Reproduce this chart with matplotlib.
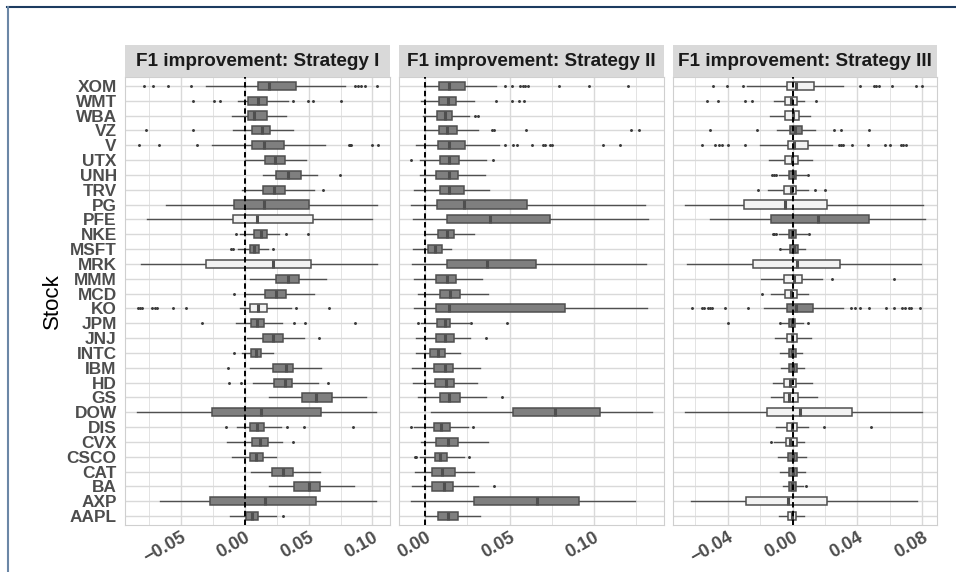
import matplotlib
matplotlib.use("Agg")
import matplotlib.pyplot as plt
from matplotlib.lines import Line2D
from matplotlib.ticker import FixedLocator

plt.rcParams['font.family'] = ['Liberation Sans', 'DejaVu Sans']

stocks = ["XOM", "WMT", "WBA", "VZ", "V", "UTX", "UNH", "TRV", "PG", "PFE", "NKE", "MSFT",
          "MRK", "MMM", "MCD", "KO", "JPM", "JNJ", "INTC", "IBM", "HD", "GS", "DOW", "DIS",
          "CVX", "CSCO", "CAT", "BA", "AXP", "AAPL"]

titles = ["F1 improvement: Strategy I", "F1 improvement: Strategy II", "F1 improvement: Strategy III"]

# ---------------- Strategy I ----------------
s1_lo = [-0.0304, -0.0050, -0.0102, -0.0089, -0.0254, 0.0003, 0.0139, -0.0018, -0.0616, -0.0763,
         -0.0039, -0.0052, -0.0810, 0.0042, 0.0003, -0.0034, -0.0071, 0.0021, -0.0024, 0.0037,
         0.0066, 0.0186, -0.0844, -0.0063, -0.0136, -0.0097, 0.0047, 0.0191, -0.0668, -0.0118]
s1_q1 = [0.0102, 0.0029, 0.0029, 0.0060, 0.0055, 0.0157, 0.0244, 0.0144, -0.0086, -0.0089,
         0.0076, 0.0039, -0.0301, 0.0246, 0.0157, 0.0037, 0.0045, 0.0144, 0.0052, 0.0220,
         0.0225, 0.0448, -0.0259, 0.0039, 0.0055, 0.0037, 0.0212, 0.0383, -0.0275, 0.0010]
s1_med = [0.0186, 0.0102, 0.0076, 0.0134, 0.0152, 0.0236, 0.0338, 0.0231, 0.0147, 0.0094,
          0.0128, 0.0073, 0.0218, 0.0341, 0.0244, 0.0107, 0.0092, 0.0223, 0.0086, 0.0322,
          0.0314, 0.0558, 0.0126, 0.0094, 0.0118, 0.0086, 0.0299, 0.0500, 0.0155, 0.0055]
s1_q3 = [0.0398, 0.0173, 0.0170, 0.0197, 0.0304, 0.0317, 0.0440, 0.0317, 0.0501, 0.0532,
         0.0176, 0.0110, 0.0519, 0.0425, 0.0322, 0.0170, 0.0149, 0.0296, 0.0128, 0.0377,
         0.0370, 0.0684, 0.0597, 0.0147, 0.0178, 0.0139, 0.0377, 0.0590, 0.0556, 0.0102]
s1_hi = [0.0781, 0.0338, 0.0322, 0.0375, 0.0626, 0.0480, 0.0566, 0.0542, 0.1035, 0.0998,
         0.0270, 0.0178, 0.1038, 0.0637, 0.0540, 0.0364, 0.0288, 0.0461, 0.0218, 0.0597,
         0.0571, 0.0946, 0.1030, 0.0283, 0.0291, 0.0244, 0.0590, 0.0857, 0.1030, 0.0244]
s1_out = [[-0.0791, -0.0718, -0.0603, -0.0425, 0.0860, 0.0886, 0.0912, 0.0938, 0.1038],
          [-0.0406, -0.0241, -0.0194, 0.0380, 0.0493, 0.0532, 0.0755],
          [],
          [-0.0773, -0.0406],
          [-0.0825, -0.0671, -0.0377, 0.0820, 0.0827, 0.0833, 0.0998, 0.1043],
          [],
          [0.0747],
          [0.0611],
          [],
          [],
          [-0.0071, 0.0325, 0.0498],
          [-0.0110, -0.0089, 0.0223],
          [],
          [],
          [-0.0084],
          [-0.0836, -0.0818, -0.0805, -0.0726, -0.0705, -0.0687, -0.0561, -0.0464, 0.0401, 0.0663],
          [-0.0338, 0.0388, 0.0472, 0.0862],
          [0.0579],
          [-0.0084],
          [-0.0131],
          [-0.0123, -0.0031, 0.0650],
          [],
          [],
          [-0.0149, 0.0328, 0.0461, 0.0846],
          [0.0380],
          [],
          [],
          [],
          [],
          [0.0301]]
s1_light = ["PFE", "MRK", "KO"]

# ---------------- Strategy II ----------------
s2_lo = [0.0000, -0.0024, -0.0016, 0.0004, -0.0053, -0.0034, -0.0034, -0.0065, -0.0083, -0.0075,
         0.0000, -0.0075, -0.0079, -0.0065, -0.0042, -0.0065, -0.0024, -0.0053, -0.0053, -0.0079,
         -0.0075, -0.0044, 0.0034, -0.0065, -0.0024, -0.0034, -0.0059, -0.0079, -0.0083, 0.0000]
s2_q1 = [0.0083, 0.0079, 0.0071, 0.0079, 0.0073, 0.0085, 0.0063, 0.0085, 0.0067, 0.0131,
         0.0075, 0.0016, 0.0131, 0.0065, 0.0089, 0.0065, 0.0069, 0.0063, 0.0030, 0.0049,
         0.0059, 0.0089, 0.0519, 0.0053, 0.0065, 0.0055, 0.0040, 0.0038, 0.0287, 0.0075]
s2_med = [0.0143, 0.0135, 0.0115, 0.0129, 0.0143, 0.0139, 0.0139, 0.0143, 0.0228, 0.0386,
          0.0129, 0.0059, 0.0368, 0.0129, 0.0145, 0.0143, 0.0115, 0.0115, 0.0073, 0.0115,
          0.0125, 0.0143, 0.0772, 0.0095, 0.0133, 0.0089, 0.0099, 0.0109, 0.0663, 0.0133]
s2_q3 = [0.0238, 0.0180, 0.0160, 0.0188, 0.0238, 0.0200, 0.0196, 0.0228, 0.0606, 0.0738,
         0.0168, 0.0099, 0.0657, 0.0180, 0.0208, 0.0827, 0.0148, 0.0172, 0.0115, 0.0164,
         0.0172, 0.0204, 0.1035, 0.0145, 0.0194, 0.0129, 0.0178, 0.0164, 0.0911, 0.0194]
s2_hi = [0.0422, 0.0287, 0.0261, 0.0311, 0.0439, 0.0360, 0.0352, 0.0380, 0.1306, 0.1322,
         0.0291, 0.0152, 0.1312, 0.0337, 0.0372, 0.1316, 0.0263, 0.0263, 0.0208, 0.0327,
         0.0307, 0.0360, 0.1346, 0.0253, 0.0372, 0.0228, 0.0287, 0.0313, 0.1247, 0.0323]
s2_out = [[0.0475, 0.0515, 0.0564, 0.0580, 0.0594, 0.0608, 0.0792, 0.0974, 0.1203],
          [0.0420, 0.0515, 0.0554, 0.0584],
          [0.0297, 0.0311],
          [0.0396, 0.0406, 0.0600, 0.1221, 0.1267],
          [0.0475, 0.0521, 0.0544, 0.0633, 0.0699, 0.0713, 0.0738, 0.0752, 0.1053, 0.1158],
          [-0.0085, 0.0402],
          [],
          [],
          [],
          [],
          [],
          [],
          [],
          [],
          [],
          [],
          [-0.0044, 0.0273, 0.0485],
          [0.0362],
          [],
          [],
          [],
          [0.0455],
          [],
          [-0.0083, 0.0281],
          [],
          [-0.0063, -0.0055, 0.0257],
          [],
          [0.0410],
          [],
          []]
s2_light = []

# ---------------- Strategy III ----------------
s3_lo = [-0.0283, -0.0113, -0.0139, -0.0096, -0.0201, -0.0144, -0.0082, -0.0150, -0.0660, -0.0509,
         -0.0082, -0.0068, -0.0652, -0.0195, -0.0133, -0.0174, -0.0068, -0.0109, -0.0078, -0.0072,
         -0.0123, -0.0133, -0.0663, -0.0103, -0.0113, -0.0088, -0.0078, -0.0062, -0.0626, -0.0082]
s3_q1 = [-0.0037, -0.0047, -0.0045, -0.0014, -0.0027, -0.0047, -0.0025, -0.0051, -0.0297, -0.0133,
         -0.0025, -0.0016, -0.0242, -0.0051, -0.0047, -0.0037, -0.0021, -0.0037, -0.0023, -0.0021,
         -0.0055, -0.0051, -0.0160, -0.0037, -0.0041, -0.0027, -0.0021, -0.0021, -0.0287, -0.0027]
s3_med = [0.0023, -0.0010, 0.0004, 0.0016, 0.0010, -0.0004, 0.0000, -0.0010, -0.0047, 0.0154,
          -0.0004, 0.0006, 0.0027, 0.0006, -0.0010, 0.0021, -0.0004, -0.0006, -0.0004, 0.0004,
          -0.0014, -0.0021, 0.0045, -0.0006, -0.0016, 0.0000, 0.0002, -0.0004, -0.0027, -0.0004]
s3_q3 = [0.0135, 0.0027, 0.0041, 0.0055, 0.0096, 0.0031, 0.0021, 0.0021, 0.0215, 0.0472,
         0.0021, 0.0031, 0.0293, 0.0057, 0.0027, 0.0123, 0.0016, 0.0025, 0.0018, 0.0025,
         0.0021, 0.0035, 0.0369, 0.0027, 0.0025, 0.0027, 0.0027, 0.0021, 0.0209, 0.0021]
s3_hi = [0.0308, 0.0072, 0.0107, 0.0137, 0.0240, 0.0119, 0.0082, 0.0096, 0.0804, 0.0816,
         0.0092, 0.0076, 0.0790, 0.0181, 0.0092, 0.0312, 0.0062, 0.0113, 0.0059, 0.0072,
         0.0119, 0.0148, 0.0800, 0.0098, 0.0072, 0.0082, 0.0076, 0.0062, 0.0769, 0.0072]
s3_out = [[-0.0488, -0.0406, -0.0304, 0.0414, 0.0503, 0.0517, 0.0533, 0.0615, 0.0759, 0.0800],
          [-0.0529, -0.0457, -0.0293, -0.0252, 0.0144],
          [],
          [-0.0509, -0.0222, 0.0256, 0.0297, 0.0472],
          [-0.0558, -0.0476, -0.0451, -0.0437, -0.0400, -0.0293, 0.0287, 0.0297, 0.0312, 0.0369,
           0.0466, 0.0568, 0.0599, 0.0671, 0.0681, 0.0697],
          [],
          [-0.0127, -0.0117, -0.0103, 0.0092],
          [-0.0215, 0.0137, 0.0199],
          [],
          [],
          [-0.0123, -0.0113, -0.0103, 0.0103],
          [-0.0078],
          [],
          [0.0242, 0.0626],
          [-0.0191],
          [-0.0622, -0.0560, -0.0548, -0.0519, -0.0507, -0.0498, -0.0416, -0.0277, 0.0359, 0.0384,
           0.0414, 0.0472, 0.0574, 0.0626, 0.0677, 0.0691, 0.0718, 0.0732, 0.0786],
          [-0.0400, -0.0078, 0.0092],
          [],
          [],
          [],
          [],
          [],
          [],
          [0.0195, 0.0482],
          [-0.0133],
          [],
          [],
          [0.0082],
          [],
          []]
s3_light = ["XOM", "WMT", "WBA", "V", "UTX", "TRV", "PG", "MRK", "MMM", "MCD", "JNJ", "HD",
            "GS", "DOW", "DIS", "CVX", "AXP", "AAPL"]

s1_major = [-0.05, 0.00, 0.05, 0.10]
s1_minor = [-0.075, -0.025, 0.025, 0.075]
s1_labels = ["\u22120.05", "0.00", "0.05", "0.10"]
s2_major = [0.00, 0.05, 0.10]
s2_minor = [-0.025, 0.025, 0.075, 0.125]
s2_labels = ["0.00", "0.05", "0.10"]
s3_major = [-0.04, 0.00, 0.04, 0.08]
s3_minor = [-0.06, -0.02, 0.02, 0.06]
s3_labels = ["\u22120.04", "0.00", "0.04", "0.08"]

panels = [
    (s1_lo, s1_q1, s1_med, s1_q3, s1_hi, s1_out, s1_light, s1_major, s1_minor, s1_labels),
    (s2_lo, s2_q1, s2_med, s2_q3, s2_hi, s2_out, s2_light, s2_major, s2_minor, s2_labels),
    (s3_lo, s3_q1, s3_med, s3_q3, s3_hi, s3_out, s3_light, s3_major, s3_minor, s3_labels),
]

W, H = 956, 572
fig = plt.figure(figsize=(W / 100, H / 100), dpi=100)

panel_x = [(125, 390), (399, 664), (673, 937)]
ptop, pbot = 77, 525
stop = 45

DARK = "#7f7f7f"
LIGHT = "#f2f2f2"
EDGE = "#4f4f4f"
n = len(stocks)
positions = list(range(n, 0, -1))  # XOM on top

for i, (lo, q1, med, q3, hi, out, light, major, minor, labels) in enumerate(panels):
    x0, x1 = panel_x[i]
    ax = fig.add_axes([x0 / W, (H - pbot) / H, (x1 - x0) / W, (pbot - ptop) / H])
    stats = [dict(whislo=lo[k], q1=q1[k], med=med[k], q3=q3[k], whishi=hi[k], fliers=out[k], label=stocks[k])
             for k in range(n)]
    bp = ax.bxp(stats, positions=positions, widths=0.55, orientation='horizontal',
                patch_artist=True, showcaps=False,
                boxprops=dict(edgecolor=EDGE, linewidth=1.1),
                whiskerprops=dict(color=EDGE, linewidth=1.0),
                medianprops=dict(color=EDGE, linewidth=2.2, solid_capstyle='butt'),
                flierprops=dict(marker='o', markersize=1.1, markerfacecolor='#3a3a3a',
                                markeredgecolor='#3a3a3a', linestyle='none'))
    for k, patch in enumerate(bp['boxes']):
        patch.set_facecolor(LIGHT if stocks[k] in light else DARK)
        patch.set_zorder(3)
    for m in bp['medians']:
        m.set_zorder(4)
    for w in bp['whiskers']:
        w.set_zorder(2.5)

    # limits: data range with 5% expansion
    allv = lo + hi + [v for o in out for v in o]
    vmin, vmax = min(allv), max(allv)
    pad = 0.05 * (vmax - vmin)
    ax.set_xlim(vmin - pad, vmax + pad)
    ax.set_ylim(0.4, n + 0.6)

    ax.axvline(0, color='black', linestyle=(0, (2.8, 1.7)), linewidth=1.4, zorder=6)

    ax.xaxis.set_major_locator(FixedLocator(major))
    ax.xaxis.set_minor_locator(FixedLocator(minor))
    ax.set_xticklabels(labels)
    ax.set_yticks(positions)
    if i == 0:
        ax.set_yticklabels(stocks)
    else:
        ax.set_yticklabels([])
    ax.grid(True, which='major', axis='both', color='#d9d9d9', linewidth=1.0, zorder=0)
    ax.grid(True, which='minor', axis='x', color='#e3e3e3', linewidth=0.7, zorder=0)
    ax.set_axisbelow(True)
    ax.tick_params(axis='both', which='both', length=0)
    ax.tick_params(axis='y', pad=6, labelsize=12.4, labelcolor='#4d4d4d')
    ax.tick_params(axis='x', pad=3, labelsize=13, labelcolor='#4d4d4d')
    for lab in ax.get_yticklabels():
        lab.set_fontweight('bold')
    for lab in ax.get_xticklabels():
        lab.set_fontweight('bold')
        lab.set_rotation(30)
        lab.set_ha('right')
        lab.set_va('top')
        lab.set_rotation_mode('anchor')
    for sp in ax.spines.values():
        sp.set_color('#cfcfcf')
        sp.set_linewidth(0.8)

    sax = fig.add_axes([x0 / W, (H - ptop) / H, (x1 - x0) / W, (ptop - stop) / H])
    sax.set_facecolor('#d9d9d9')
    sax.set_xticks([])
    sax.set_yticks([])
    for sp in sax.spines.values():
        sp.set_visible(False)
    sax.text(0.5, 0.5, titles[i], ha='center', va='center', fontsize=13.6,
             fontweight='bold', color='#1a1a1a', transform=sax.transAxes)

fig.text(52 / W, 1 - 301 / H, "Stock", rotation=90, ha='center', va='center', fontsize=16, color='black')

# outer frame lines
fig.add_artist(Line2D([7 / W, 1.0], [1 - 7 / H, 1 - 7 / H], transform=fig.transFigure,
                      color='#1d3b60', linewidth=1.5))
fig.add_artist(Line2D([7.5 / W, 7.5 / W], [0, 1 - 7 / H], transform=fig.transFigure,
                      color='#6b87a6', linewidth=1.5))

fig.savefig("out.png", dpi=100)
